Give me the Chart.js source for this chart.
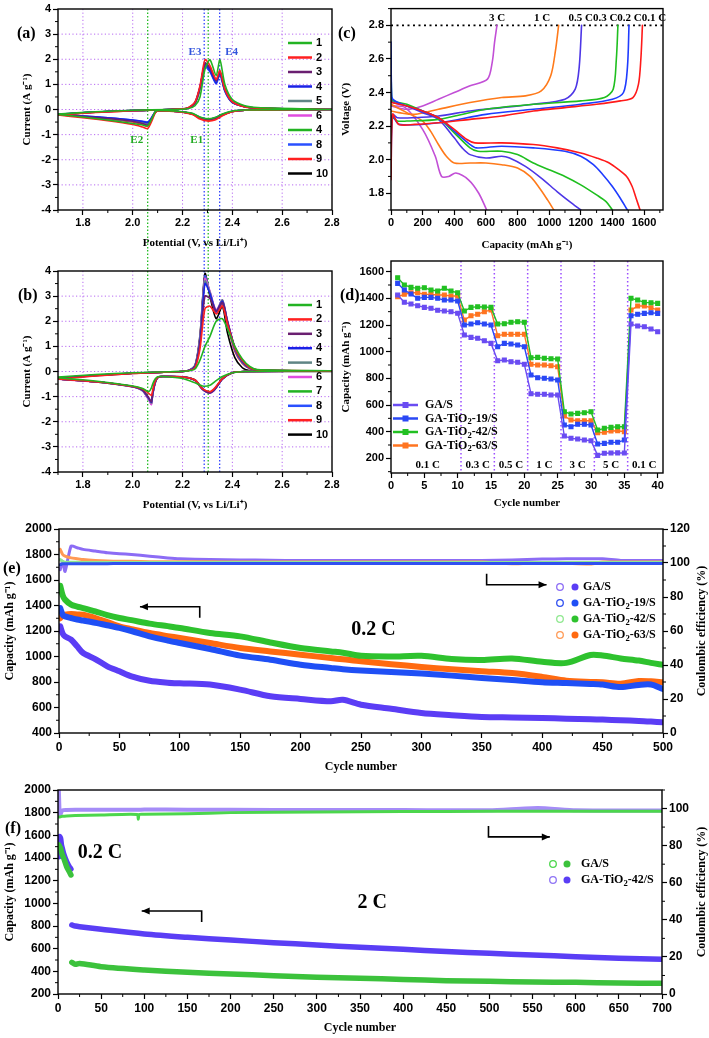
<!DOCTYPE html>
<html>
<head>
<meta charset="utf-8">
<script src="https://cdn.jsdelivr.net/npm/chart.js@4.4.0/dist/chart.umd.min.js"></script>
<style>
  body { margin: 0; background: #fff; }
  #fig { position: relative; width: 709px; height: 1038px; overflow: hidden; background: #fff; }
  #fig canvas { position: absolute; }
  .tag { position: absolute; font: bold 16px "Liberation Serif", serif; line-height: 20px; color: #000; }
</style>
</head>
<body>
<div id="fig">
  <canvas id="cA"></canvas><canvas id="cB"></canvas>
  <canvas id="cC"></canvas><canvas id="cD"></canvas>
  <canvas id="cE"></canvas><canvas id="cF"></canvas>
  <div class="tag" style="left:17px;top:23px">(a)</div>
  <div class="tag" style="left:338px;top:23px">(c)</div>
  <div class="tag" style="left:18px;top:285px">(b)</div>
  <div class="tag" style="left:340px;top:285px">(d)</div>
  <div class="tag" style="left:3px;top:558px">(e)</div>
  <div class="tag" style="left:5px;top:818px">(f)</div>
</div>
<script>
// ---------- (a), (b): CV curves, 10 cycles ----------
var cycleNamesA = ['1', '2', '3', '4', '5', '6', '4', '8', '9', '10'];   // printed like this in (a)
var cycleNamesB = ['1', '2', '3', '4', '5', '6', '7', '8', '9', '10'];
var cvTicksX = [1.8, 2.0, 2.2, 2.4, 2.6, 2.8];
var cvTicksY = [-4, -3, -2, -1, 0, 1, 2, 3, 4];

var aAnodicV = [1.70, 1.85, 2.00, 2.15, 2.22, 2.25, 2.27, 2.29, 2.31, 2.335, 2.35, 2.37, 2.40, 2.45, 2.50, 2.80];
var aAnodicI = [
  [-0.18, -0.09, -0.03, 0.00, 0.03, 0.15, 0.50, 1.60, 1.98, 1.35, 1.98, 1.00, 0.40, 0.15, 0.08, 0.00],
  [-0.22, -0.12, -0.05, 0.00, 0.06, 0.30, 0.95, 1.98, 1.75, 1.20, 1.55, 0.80, 0.30, 0.10, 0.05, 0.00],
  [-0.20, -0.11, -0.04, 0.00, 0.05, 0.25, 0.85, 1.85, 1.65, 1.15, 1.50, 0.80, 0.30, 0.12, 0.06, 0.00],
  [-0.19, -0.10, -0.04, 0.00, 0.05, 0.28, 0.90, 1.80, 1.55, 1.05, 1.45, 0.75, 0.28, 0.11, 0.05, 0.00],
  [-0.20, -0.10, -0.04, 0.00, 0.05, 0.26, 0.85, 1.75, 1.60, 1.10, 1.48, 0.78, 0.29, 0.12, 0.06, 0.00],
  [-0.21, -0.11, -0.04, 0.00, 0.05, 0.25, 0.82, 1.78, 1.62, 1.12, 1.50, 0.80, 0.30, 0.12, 0.06, 0.00],
  [-0.20, -0.10, -0.04, 0.00, 0.05, 0.24, 0.80, 1.75, 1.62, 1.14, 1.52, 0.82, 0.31, 0.12, 0.06, 0.00],
  [-0.19, -0.10, -0.04, 0.00, 0.05, 0.27, 0.88, 1.70, 1.50, 1.02, 1.40, 0.72, 0.27, 0.11, 0.05, 0.00],
  [-0.21, -0.11, -0.05, 0.00, 0.05, 0.27, 0.88, 1.82, 1.60, 1.10, 1.48, 0.78, 0.29, 0.11, 0.05, 0.00],
  [-0.20, -0.10, -0.04, 0.00, 0.05, 0.26, 0.86, 1.72, 1.55, 1.08, 1.45, 0.76, 0.28, 0.11, 0.05, 0.00]
];
var aCathodicV = [2.80, 2.45, 2.40, 2.36, 2.33, 2.30, 2.27, 2.24, 2.18, 2.10, 2.09, 2.08, 2.07, 2.06, 2.04, 2.00, 1.90, 1.80, 1.70];
var aCathodicI = [
  [0.00, -0.02, -0.06, -0.18, -0.32, -0.37, -0.30, -0.15, -0.07, -0.04, -0.10, -0.30, -0.50, -0.65, -0.62, -0.56, -0.42, -0.30, -0.20],
  [0.00, -0.03, -0.09, -0.25, -0.42, -0.46, -0.38, -0.20, -0.09, -0.06, -0.14, -0.38, -0.60, -0.76, -0.70, -0.60, -0.45, -0.33, -0.22],
  [0.00, -0.03, -0.08, -0.22, -0.36, -0.40, -0.33, -0.18, -0.08, -0.05, -0.12, -0.30, -0.48, -0.62, -0.56, -0.47, -0.36, -0.28, -0.20],
  [0.00, -0.03, -0.07, -0.20, -0.34, -0.38, -0.32, -0.17, -0.08, -0.05, -0.10, -0.26, -0.42, -0.52, -0.48, -0.42, -0.33, -0.26, -0.19],
  [0.00, -0.03, -0.08, -0.21, -0.35, -0.39, -0.33, -0.18, -0.08, -0.05, -0.11, -0.28, -0.45, -0.57, -0.52, -0.44, -0.35, -0.27, -0.20],
  [0.00, -0.03, -0.08, -0.22, -0.36, -0.40, -0.34, -0.18, -0.08, -0.05, -0.12, -0.29, -0.46, -0.60, -0.55, -0.46, -0.36, -0.28, -0.20],
  [0.00, -0.03, -0.08, -0.22, -0.37, -0.41, -0.34, -0.18, -0.08, -0.05, -0.12, -0.30, -0.47, -0.60, -0.55, -0.47, -0.37, -0.28, -0.20],
  [0.00, -0.03, -0.07, -0.20, -0.34, -0.38, -0.32, -0.17, -0.08, -0.05, -0.10, -0.25, -0.40, -0.50, -0.47, -0.42, -0.33, -0.26, -0.19],
  [0.00, -0.03, -0.08, -0.23, -0.38, -0.42, -0.35, -0.19, -0.08, -0.05, -0.12, -0.32, -0.52, -0.66, -0.60, -0.50, -0.38, -0.29, -0.21],
  [0.00, -0.03, -0.08, -0.21, -0.35, -0.39, -0.33, -0.18, -0.08, -0.05, -0.11, -0.28, -0.44, -0.56, -0.52, -0.45, -0.35, -0.27, -0.20]
];

var bAnodicV = [1.70, 1.85, 2.00, 2.15, 2.22, 2.25, 2.27, 2.29, 2.31, 2.335, 2.36, 2.38, 2.41, 2.44, 2.47, 2.50, 2.80];
var bAnodicI = [
  [-0.22, -0.12, -0.05, -0.01, 0.02, 0.10, 0.45, 1.00, 1.40, 2.00, 2.10, 1.70, 1.00, 0.50, 0.20, 0.08, 0.03],
  [-0.30, -0.18, -0.08, -0.02, 0.02, 0.15, 0.90, 2.50, 2.60, 2.30, 2.60, 1.90, 0.95, 0.45, 0.15, 0.07, 0.02],
  [-0.28, -0.17, -0.08, -0.02, 0.03, 0.18, 1.10, 3.00, 2.90, 2.40, 2.75, 2.00, 0.95, 0.42, 0.15, 0.06, 0.02],
  [-0.27, -0.16, -0.07, -0.02, 0.03, 0.20, 1.20, 3.50, 3.10, 2.40, 2.80, 2.00, 0.95, 0.40, 0.14, 0.06, 0.02],
  [-0.27, -0.16, -0.07, -0.02, 0.03, 0.20, 1.25, 3.60, 3.15, 2.40, 2.85, 2.00, 0.95, 0.40, 0.14, 0.06, 0.02],
  [-0.27, -0.16, -0.07, -0.02, 0.03, 0.21, 1.30, 3.70, 3.20, 2.45, 2.85, 2.05, 0.95, 0.40, 0.14, 0.06, 0.02],
  [-0.26, -0.15, -0.07, -0.02, 0.03, 0.21, 1.30, 3.70, 3.15, 2.40, 2.80, 2.00, 0.92, 0.38, 0.13, 0.05, 0.02],
  [-0.26, -0.15, -0.07, -0.02, 0.03, 0.22, 1.35, 3.80, 3.15, 2.35, 2.75, 1.90, 0.85, 0.35, 0.12, 0.05, 0.02],
  [-0.26, -0.15, -0.07, -0.02, 0.03, 0.22, 1.35, 3.80, 3.10, 2.30, 2.70, 1.85, 0.80, 0.32, 0.11, 0.05, 0.02],
  [-0.25, -0.15, -0.07, -0.02, 0.03, 0.25, 1.45, 3.90, 3.00, 2.10, 2.60, 1.55, 0.55, 0.15, 0.03, 0.01, 0.00]
];
var bCathodicV = [2.80, 2.45, 2.40, 2.36, 2.33, 2.31, 2.28, 2.25, 2.20, 2.12, 2.10, 2.09, 2.08, 2.075, 2.065, 2.04, 2.00, 1.90, 1.80, 1.70];
var bCathodicI = [
  [0.03, 0.00, -0.05, -0.20, -0.40, -0.55, -0.58, -0.45, -0.28, -0.20, -0.21, -0.30, -0.50, -0.65, -0.80, -0.68, -0.58, -0.44, -0.33, -0.25],
  [0.02, 0.00, -0.05, -0.28, -0.65, -0.80, -0.68, -0.34, -0.22, -0.20, -0.23, -0.40, -0.75, -0.95, -0.88, -0.70, -0.60, -0.46, -0.37, -0.30],
  [0.02, 0.00, -0.05, -0.30, -0.70, -0.85, -0.70, -0.35, -0.22, -0.20, -0.24, -0.42, -0.85, -1.20, -1.05, -0.74, -0.60, -0.46, -0.37, -0.30],
  [0.02, 0.00, -0.05, -0.30, -0.70, -0.84, -0.70, -0.35, -0.22, -0.20, -0.24, -0.44, -0.88, -1.22, -1.08, -0.75, -0.61, -0.46, -0.37, -0.30],
  [0.02, 0.00, -0.05, -0.30, -0.71, -0.85, -0.71, -0.35, -0.22, -0.20, -0.24, -0.44, -0.90, -1.25, -1.10, -0.76, -0.61, -0.47, -0.37, -0.30],
  [0.02, 0.00, -0.05, -0.31, -0.72, -0.86, -0.72, -0.36, -0.22, -0.20, -0.25, -0.46, -0.95, -1.32, -1.15, -0.78, -0.62, -0.47, -0.38, -0.31],
  [0.02, 0.00, -0.05, -0.30, -0.70, -0.85, -0.70, -0.35, -0.22, -0.20, -0.24, -0.45, -0.92, -1.28, -1.12, -0.77, -0.61, -0.47, -0.37, -0.30],
  [0.02, 0.00, -0.05, -0.30, -0.70, -0.84, -0.70, -0.35, -0.22, -0.20, -0.24, -0.45, -0.92, -1.27, -1.12, -0.76, -0.61, -0.46, -0.37, -0.30],
  [0.02, 0.00, -0.05, -0.29, -0.69, -0.83, -0.69, -0.34, -0.22, -0.20, -0.24, -0.44, -0.90, -1.25, -1.10, -0.75, -0.60, -0.46, -0.37, -0.30],
  [0.02, 0.00, -0.05, -0.28, -0.68, -0.82, -0.68, -0.33, -0.21, -0.19, -0.23, -0.44, -0.90, -1.25, -1.12, -0.76, -0.60, -0.46, -0.37, -0.30]
];

// ---------- (c): charge / discharge profiles ----------
var capTicksC = [0, 200, 400, 600, 800, 1000, 1200, 1400, 1600];
var voltTicksC = [1.8, 2.0, 2.2, 2.4, 2.6, 2.8];
var dis01Cap = [0, 5, 100, 200, 300, 400, 480, 530, 700, 900, 1050, 1200, 1300, 1380, 1440, 1490, 1525, 1550, 1575];
var dis01V = [2.35, 2.34, 2.32, 2.29, 2.25, 2.18, 2.12, 2.10, 2.10, 2.09, 2.07, 2.04, 2.01, 1.98, 1.94, 1.90, 1.84, 1.77, 1.70];
var dis02Cap = [0, 5, 100, 200, 300, 400, 500, 540, 700, 900, 1100, 1200, 1280, 1340, 1400, 1450, 1495];
var dis02V = [2.70, 2.37, 2.32, 2.29, 2.25, 2.17, 2.09, 2.07, 2.08, 2.07, 2.05, 2.02, 1.97, 1.91, 1.84, 1.77, 1.70];
var dis03Cap = [0, 5, 100, 200, 300, 400, 500, 550, 700, 800, 900, 1000, 1100, 1200, 1300, 1360, 1400];
var dis03V = [2.62, 2.36, 2.33, 2.29, 2.25, 2.16, 2.07, 2.05, 2.05, 2.03, 1.98, 1.94, 1.90, 1.85, 1.79, 1.75, 1.70];
var dis05Cap = [0, 5, 100, 200, 300, 400, 450, 500, 600, 700, 750, 850, 950, 1050, 1130, 1200];
var dis05V = [2.45, 2.35, 2.32, 2.28, 2.24, 2.13, 2.07, 2.03, 2.01, 2.02, 2.01, 1.96, 1.89, 1.81, 1.75, 1.70];
var dis1Cap = [0, 100, 200, 250, 300, 350, 400, 500, 600, 700, 800, 880, 940, 990, 1030];
var dis1V = [2.33, 2.28, 2.23, 2.17, 2.09, 2.02, 1.98, 1.98, 1.98, 1.97, 1.95, 1.90, 1.83, 1.76, 1.70];
var dis3Cap = [0, 90, 200, 280, 320, 365, 410, 490, 555, 605];
var dis3V = [2.32, 2.31, 2.18, 2.02, 1.90, 1.90, 1.92, 1.88, 1.80, 1.70];
var chg01Cap = [0, 10, 50, 150, 300, 500, 700, 900, 1100, 1300, 1450, 1530, 1565, 1580, 1590];
var chg01V = [1.88, 2.27, 2.21, 2.21, 2.22, 2.24, 2.26, 2.29, 2.31, 2.33, 2.35, 2.37, 2.45, 2.60, 2.80];
var chg02Cap = [0, 10, 50, 300, 600, 900, 1200, 1400, 1470, 1495, 1505];
var chg02V = [1.92, 2.26, 2.21, 2.22, 2.27, 2.30, 2.33, 2.36, 2.40, 2.55, 2.80];
var chg03Cap = [0, 10, 40, 100, 300, 600, 900, 1200, 1350, 1405, 1425, 1435];
var chg03V = [2.10, 2.25, 2.23, 2.23, 2.24, 2.30, 2.33, 2.35, 2.37, 2.42, 2.60, 2.80];
var chg05Cap = [0, 10, 40, 150, 300, 500, 700, 900, 1100, 1165, 1190, 1205];
var chg05V = [2.20, 2.27, 2.25, 2.25, 2.26, 2.29, 2.31, 2.33, 2.36, 2.42, 2.55, 2.80];
var chg1Cap = [0, 50, 150, 300, 500, 700, 850, 950, 1010, 1040, 1060];
var chg1V = [2.29, 2.28, 2.27, 2.30, 2.34, 2.37, 2.38, 2.41, 2.50, 2.65, 2.80];
var chg3Cap = [0, 100, 200, 300, 400, 500, 610, 640, 655, 670];
var chg3V = [2.32, 2.30, 2.32, 2.36, 2.40, 2.44, 2.48, 2.58, 2.70, 2.80];

// ---------- (d): rate capability ----------
var rateCycles = [1, 2, 3, 4, 5, 6, 7, 8, 9, 10, 11, 12, 13, 14, 15, 16, 17, 18, 19, 20,
                  21, 22, 23, 24, 25, 26, 27, 28, 29, 30, 31, 32, 33, 34, 35, 36, 37, 38, 39, 40];
var rateGA = [1425, 1370, 1357, 1345, 1332, 1325, 1310, 1305, 1300, 1288, 1125, 1107, 1100, 1082, 1062,
              932, 937, 925, 920, 905, 685, 680, 680, 675, 675, 367, 350, 345, 337, 332,
              222, 238, 240, 241, 240, 1207, 1192, 1187, 1170, 1150];
var rateT19 = [1512, 1462, 1432, 1400, 1407, 1407, 1400, 1387, 1387, 1380, 1200, 1207, 1217, 1207, 1200,
               1037, 1062, 1057, 1050, 1037, 825, 805, 800, 795, 787, 450, 437, 455, 455, 450,
               307, 312, 320, 320, 337, 1270, 1280, 1287, 1292, 1287];
var rateT42 = [1555, 1500, 1482, 1475, 1480, 1462, 1455, 1475, 1455, 1442, 1305, 1332, 1337, 1335, 1332,
               1207, 1210, 1220, 1225, 1220, 955, 957, 950, 947, 945, 550, 532, 537, 542, 550,
               412, 425, 432, 437, 437, 1400, 1387, 1370, 1367, 1362];
var rateT63 = [1412, 1430, 1442, 1442, 1430, 1430, 1425, 1425, 1417, 1417, 1237, 1270, 1280, 1300, 1312,
               1120, 1130, 1130, 1130, 1130, 905, 900, 900, 895, 887, 517, 487, 482, 482, 482,
               392, 395, 405, 407, 400, 1312, 1342, 1342, 1330, 1312];
var rateSteps = ['0.1 C', '0.3 C', '0.5 C', '1 C', '3 C', '5 C', '0.1 C'];
var rateStepMid = [5.5, 13, 18, 23, 28, 33, 38];
var rateBreaks = [10.5, 15.5, 20.5, 25.5, 30.5, 35.5];
var rateTicksX = [0, 5, 10, 15, 20, 25, 30, 35, 40];
var rateTicksY = [200, 400, 600, 800, 1000, 1200, 1400, 1600];

// ---------- (e): long cycling at 0.2 C ----------
var cyclesE = [1, 3, 5, 10, 15, 20, 30, 40, 50, 60, 75, 90, 100, 125, 150, 175, 200, 225, 235, 250,
               275, 300, 325, 350, 375, 400, 420, 440, 450, 465, 480, 490, 500];
var capE_GA = [1237, 1180, 1158, 1132, 1080, 1027, 980, 923, 884, 845, 810, 795, 790, 780, 740, 688, 667, 649, 660, 622,
               590, 557, 540, 526, 522, 518, 512, 508, 505, 500, 495, 490, 484];
var capE_T19 = [1380, 1328, 1315, 1302, 1290, 1282, 1265, 1245, 1224, 1200, 1158, 1125, 1106, 1059, 1007, 975, 936, 910, 900, 890,
                878, 866, 850, 832, 815, 798, 792, 785, 780, 760, 777, 780, 745];
var capE_T42 = [1555, 1480, 1446, 1407, 1392, 1380, 1354, 1325, 1302, 1285, 1258, 1238, 1224, 1184, 1158, 1110, 1067, 1040, 1030, 1005,
                1000, 1005, 980, 972, 985, 958, 950, 1012, 1008, 985, 968, 950, 935];
var capE_T63 = [1300, 1320, 1328, 1333, 1330, 1328, 1302, 1270, 1237, 1215, 1184, 1160, 1145, 1106, 1067, 1040, 1014, 988, 978, 962,
                940, 918, 900, 884, 870, 840, 810, 800, 798, 787, 808, 805, 798];
var ceE_GA = [96, 101, 95, 110, 109, 108, 107, 106, 105.5, 105, 104, 103, 102.5, 102, 101.8, 101.6, 101.5, 101.5, 101.5, 101.5,
              101.5, 101.5, 101.5, 101.5, 101.8, 102.3, 102.5, 102.5, 102.5, 101.5, 101.5, 101.5, 101.5];
var ceE_T19 = [99, 99.5, 99.5, 99.6, 99.6, 99.6, 99.6, 99.6, 99.7, 99.7, 99.7, 99.7, 99.7, 99.7, 99.7, 99.7, 99.7, 99.7, 99.7, 99.7,
               99.7, 99.7, 99.7, 99.7, 99.7, 99.7, 99.7, 99.7, 99.7, 99.7, 99.7, 99.7, 99.7];
var ceE_T42 = [102, 101, 100.5, 100.4, 100.4, 100.3, 100.3, 100.3, 100.3, 100.3, 100.3, 100.3, 100.3, 100.3, 100.3, 100.3, 100.3, 100.3, 100.3, 100.3,
               100.3, 100.3, 100.3, 100.3, 100.3, 100.3, 100.3, 100.3, 100.3, 100.3, 100.3, 100.3, 100.3];
var ceE_T63 = [108, 105, 104, 103, 102.5, 102, 101.5, 101.2, 101, 101, 100.8, 100.8, 100.7, 100.7, 100.6, 100.6, 100.6, 100.6, 100.6, 100.6,
               100.6, 100.6, 100.6, 100.6, 99.6, 100.2, 99.8, 99.4, 100.6, 100.6, 100.6, 100.6, 100.6];
var cycTicksE = [0, 50, 100, 150, 200, 250, 300, 350, 400, 450, 500];
var capTicksE = [400, 600, 800, 1000, 1200, 1400, 1600, 1800, 2000];
var ceTicksE = [0, 20, 40, 60, 80, 100, 120];

// ---------- (f): 0.2 C activation then 2 C ----------
var cyclesF02 = [1, 2, 3, 4, 5, 7, 10, 13, 15];
var capF02_GA = [1515, 1500, 1485, 1455, 1427, 1390, 1324, 1280, 1250];
var capF02_T42 = [1412, 1588, 1574, 1515, 1485, 1427, 1368, 1324, 1303];
var cyclesF2 = [16, 20, 25, 50, 100, 150, 200, 250, 300, 350, 400, 450, 500, 550, 600, 650, 700];
var capF2_GA = [479, 462, 470, 441, 412, 391, 377, 362, 347, 340, 329, 318, 312, 306, 303, 297, 294];
var capF2_T42 = [809, 800, 794, 771, 729, 700, 676, 653, 632, 612, 594, 574, 559, 544, 529, 515, 506];
var cyclesCEF = [1, 2, 3, 5, 10, 20, 50, 92, 93, 94, 100, 150, 200, 300, 400, 500, 556, 600, 700];
var ceF_GA = [95.5, 95.5, 95.6, 95.8, 96, 96.2, 96.5, 96.8, 94.2, 96.8, 96.9, 97.2, 97.8, 98.2, 98.4, 98.5, 98.5, 98.5, 98.5];
var ceF_T42 = [110, 96.5, 97, 99, 99.2, 99.3, 99.4, 99.3, 99.3, 99.3, 99.5, 99.4, 99.3, 99.2, 99.2, 99.1, 100.3, 99.1, 99];
var cycTicksF = [0, 50, 100, 150, 200, 250, 300, 350, 400, 450, 500, 550, 600, 650, 700];
var capTicksF = [200, 400, 600, 800, 1000, 1200, 1400, 1600, 1800, 2000];
var ceTicksF = [0, 20, 40, 60, 80, 100];

// ---------- helpers ----------
var SANS = '"Liberation Sans", Arial, sans-serif';
var SERIF = '"Liberation Serif", "Times New Roman", serif';
var cycleColors = ['#22b322', '#ff2020', '#6a1f70', '#1a22e6', '#5f8585', '#e04ce0', '#22b322', '#2a50ff', '#ff2020', '#000000'];

function pts(xs, ys) { return xs.map(function (x, i) { return {x: x, y: ys[i]}; }); }
function seg(ctx, x1, y1, x2, y2) { ctx.beginPath(); ctx.moveTo(x1, y1); ctx.lineTo(x2, y2); ctx.stroke(); }

// "_2" in a string is drawn as a subscript 2
function richText(ctx, str, x, y, size, family, align) {
  var parts = str.split(/(_\d)/).filter(Boolean);
  var f = function (s) { return 'bold ' + s + 'px ' + family; };
  var w = 0;
  parts.forEach(function (p) {
    var sub = p[0] === '_';
    ctx.font = f(sub ? size * 0.72 : size);
    w += ctx.measureText(sub ? p.slice(1) : p).width;
  });
  var cx = align === 'center' ? x - w / 2 : (align === 'right' ? x - w : x);
  ctx.textAlign = 'left';
  ctx.textBaseline = 'middle';
  parts.forEach(function (p) {
    var sub = p[0] === '_';
    var t = sub ? p.slice(1) : p;
    ctx.font = f(sub ? size * 0.72 : size);
    ctx.fillText(t, cx, sub ? y + size * 0.28 : y);
    cx += ctx.measureText(t).width;
  });
}

var deco = {
  id: 'deco',
  beforeDatasetsDraw: function (chart, args, o) {
    var ctx = chart.ctx, a = chart.chartArea, sx = chart.scales.x, sy = chart.scales.y;
    ctx.save();
    if (o.grid) {
      ctx.strokeStyle = o.grid; ctx.lineWidth = 1; ctx.setLineDash([1.2, 2.4]);
      sx.ticks.forEach(function (t) {
        var p = sx.getPixelForValue(t.value);
        if (p > a.left + 2 && p < a.right - 2) seg(ctx, p, a.top, p, a.bottom);
      });
      sy.ticks.forEach(function (t) {
        var p = sy.getPixelForValue(t.value);
        if (p > a.top + 2 && p < a.bottom - 2) seg(ctx, a.left, p, a.right, p);
      });
    }
    (o.vlines || []).forEach(function (v) {
      ctx.strokeStyle = v.color; ctx.lineWidth = v.width || 1.3; ctx.setLineDash(v.dash || [1.5, 2]);
      var p = sx.getPixelForValue(v.x);
      seg(ctx, p, v.up ? 0 : a.top, p, v.down ? chart.height : a.bottom);
    });
    (o.hlines || []).forEach(function (h) {
      ctx.strokeStyle = h.color; ctx.lineWidth = h.width || 1.3; ctx.setLineDash(h.dash || [2, 3]);
      var p = sy.getPixelForValue(h.y);
      seg(ctx, a.left, p, a.right, p);
    });
    ctx.restore();
  },
  afterDraw: function (chart, args, o) {
    var ctx = chart.ctx, a = chart.chartArea;
    ctx.save();
    // frame
    ctx.strokeStyle = '#000'; ctx.lineWidth = 1.4; ctx.setLineDash([]);
    ctx.strokeRect(a.left, a.top, a.width, a.height);
    // minor ticks halfway between the major ones
    ctx.lineWidth = 1;
    ['x', 'y', 'y2'].forEach(function (id) {
      var s = chart.scales[id];
      if (!s || s.ticks.length < 2) return;
      var step = s.ticks[1].value - s.ticks[0].value;
      for (var v = s.ticks[0].value - step / 2; v <= s.max + 1e-9; v += step) {
        if (v < s.min - 1e-9) continue;
        var p = s.getPixelForValue(v);
        if (id === 'x') seg(ctx, p, a.bottom, p, a.bottom + 3);
        else if (id === 'y') seg(ctx, a.left - 3, p, a.left, p);
        else seg(ctx, a.right, p, a.right + 3, p);
      }
    });
    // text notes
    (o.texts || []).forEach(function (t) {
      var px = chart.scales.x.getPixelForValue(t.x);
      var py = chart.scales[t.axis || 'y'].getPixelForValue(t.y);
      ctx.fillStyle = t.color || '#000';
      richText(ctx, t.text, px, py, t.size || 11, SERIF, t.align || 'center');
    });
    // arrows
    (o.arrows || []).forEach(function (ar) {
      var sy = chart.scales[ar.axis || 'y'];
      var p = ar.pts.map(function (q) { return [chart.scales.x.getPixelForValue(q[0]), sy.getPixelForValue(q[1])]; });
      ctx.strokeStyle = '#000'; ctx.fillStyle = '#000'; ctx.lineWidth = 1.6;
      ctx.beginPath(); ctx.moveTo(p[0][0], p[0][1]);
      for (var i = 1; i < p.length; i++) ctx.lineTo(p[i][0], p[i][1]);
      ctx.stroke();
      var e = p[p.length - 1], b = p[p.length - 2];
      var ang = Math.atan2(e[1] - b[1], e[0] - b[0]);
      ctx.beginPath();
      ctx.moveTo(e[0], e[1]);
      ctx.lineTo(e[0] - 8 * Math.cos(ang) + 3.5 * Math.sin(ang), e[1] - 8 * Math.sin(ang) - 3.5 * Math.cos(ang));
      ctx.lineTo(e[0] - 8 * Math.cos(ang) - 3.5 * Math.sin(ang), e[1] - 8 * Math.sin(ang) + 3.5 * Math.cos(ang));
      ctx.closePath(); ctx.fill();
    });
    // legend
    if (o.legend) {
      var L = o.legend, row = 0;
      chart.data.datasets.forEach(function (ds) {
        if (ds.noLegend) return;
        var y = a.top + L.top + row * L.step, x0 = a.left + L.left;
        ctx.setLineDash([]);
        if (L.kind === 'line' || L.kind === 'lineSquare') {
          ctx.strokeStyle = ds.borderColor; ctx.lineWidth = L.width || 2.5;
          seg(ctx, x0, y, x0 + L.len, y);
          if (L.kind === 'lineSquare') {
            ctx.fillStyle = ds.borderColor;
            ctx.fillRect(x0 + L.len / 2 - 3, y - 3, 6, 6);
          }
        } else if (L.kind === 'circles') {
          ctx.lineWidth = 1.3; ctx.strokeStyle = ds.openColor;
          ctx.beginPath(); ctx.arc(x0, y, 3.3, 0, Math.PI * 2); ctx.stroke();
          ctx.fillStyle = ds.borderColor;
          ctx.beginPath(); ctx.arc(x0 + L.gap, y, 3.5, 0, Math.PI * 2); ctx.fill();
        }
        ctx.fillStyle = '#000';
        richText(ctx, ds.label, x0 + L.textDx, y, L.size, L.family === 'sans' ? SANS : SERIF, 'left');
        row++;
      });
    }
    // right axis title, read from bottom to top
    if (o.rightTitle && chart.scales.y2) {
      var s2 = chart.scales.y2;
      ctx.translate(s2.right - o.rightTitle.size * 0.6, (a.top + a.bottom) / 2);
      ctx.rotate(-Math.PI / 2);
      ctx.fillStyle = '#000';
      richText(ctx, o.rightTitle.text, 0, 0, o.rightTitle.size, SERIF, 'center');
    }
    ctx.restore();
  }
};

function axis(o) {
  return {
    type: 'linear', position: o.pos || undefined, min: o.min, max: o.max,
    afterBuildTicks: function (s) { s.ticks = o.ticks.map(function (v) { return {value: v}; }); },
    ticks: {
      autoSkip: false, maxRotation: 0, padding: o.pad === undefined ? 2 : o.pad, color: '#000',
      font: {family: SANS, weight: 'bold', size: o.size},
      callback: o.fmt || function (v) { return String(v); }
    },
    grid: {drawOnChartArea: false, tickLength: 5, tickColor: '#000', tickWidth: 1.2},
    border: {display: false},
    title: {display: !!o.title, text: o.title || '', color: '#000', padding: 0,
            font: {family: SERIF, weight: 'bold', size: o.titleSize || 11}}
  };
}

function panel(id, box, area, datasets, scales, decoOpts) {
  var cv = document.getElementById(id);
  cv.width = box.w; cv.height = box.h;
  cv.style.left = box.x + 'px'; cv.style.top = box.y + 'px';
  var rightGap = box.x + box.w - area.r;
  scales.x.afterFit = function (s) { s.height = box.y + box.h - area.b; };
  scales.y.afterFit = function (s) { s.width = area.l - box.x; };
  if (scales.y2) scales.y2.afterFit = function (s) { s.width = rightGap; };
  return new Chart(cv, {
    type: 'scatter',
    data: {datasets: datasets},
    options: {
      responsive: false, animation: false, events: [],
      layout: {padding: {top: area.t - box.y, right: scales.y2 ? 0 : rightGap, left: 0, bottom: 0}},
      plugins: {legend: {display: false}, tooltip: {enabled: false}, deco: decoOpts},
      scales: scales
    },
    plugins: [deco]
  });
}

function cvSets(anV, anI, caV, caI, names) {
  return names.map(function (n, i) {
    return {
      label: n, data: pts(anV, anI[i]).concat(pts(caV, caI[i])),
      showLine: true, borderColor: cycleColors[i], borderWidth: 1.6, pointRadius: 0, tension: 0.25
    };
  });
}

function line(label, xs, ys, color, width, extra) {
  var d = {label: label, data: pts(xs, ys), showLine: true, borderColor: color, backgroundColor: color,
           borderWidth: width, pointRadius: 0, tension: 0.3, borderCapStyle: 'round'};
  for (var k in extra) d[k] = extra[k];
  return d;
}

var fmt1 = function (v) { return v.toFixed(1); };
var eLines = function (ext) {
  return [
    {x: 2.06, color: '#22bb22', up: ext === 'up', down: ext === 'down'},
    {x: 2.287, color: '#3344ff', up: ext === 'up', down: ext === 'down'},
    {x: 2.303, color: '#22bb22', up: ext === 'up', down: ext === 'down'},
    {x: 2.349, color: '#3344ff', up: ext === 'up', down: ext === 'down'}
  ];
};

// (a)
panel('cA', {x: 21, y: 0, w: 334, h: 250}, {l: 58, t: 9, r: 332, b: 210},
  cvSets(aAnodicV, aAnodicI, aCathodicV, aCathodicI, cycleNamesA),
  {
    x: axis({min: 1.7, max: 2.8, ticks: cvTicksX, size: 11, fmt: fmt1, pad: 1, title: 'Potential (V, vs Li/Li\u207A)'}),
    y: axis({min: -4, max: 4, ticks: cvTicksY, size: 11, title: 'Current (A g\u207B\u00B9)'})
  },
  {
    grid: 'rgba(170, 80, 240, 0.85)', vlines: eLines('down'),
    texts: [
      {x: 2.25, y: 2.3, text: 'E3', color: '#3355dd'}, {x: 2.397, y: 2.3, text: 'E4', color: '#3355dd'},
      {x: 2.016, y: -1.22, text: 'E2', color: '#22aa22'}, {x: 2.257, y: -1.22, text: 'E1', color: '#22aa22'}
    ],
    legend: {kind: 'line', left: 230, top: 34, step: 14.5, len: 24, textDx: 28, size: 11, family: 'sans'}
  });

// (b)
panel('cB', {x: 21, y: 250, w: 334, h: 262}, {l: 58, t: 271, r: 332, b: 472},
  cvSets(bAnodicV, bAnodicI, bCathodicV, bCathodicI, cycleNamesB),
  {
    x: axis({min: 1.7, max: 2.8, ticks: cvTicksX, size: 11, fmt: fmt1, pad: 1, title: 'Potential (V, vs Li/Li\u207A)'}),
    y: axis({min: -4, max: 4, ticks: cvTicksY, size: 11, title: 'Current (A g\u207B\u00B9)'})
  },
  {
    grid: 'rgba(170, 80, 240, 0.85)', vlines: eLines('up'),
    legend: {kind: 'line', left: 230, top: 34, step: 14.4, len: 24, textDx: 28, size: 11, family: 'sans'}
  });

// (c)
var rateColors = {r01: '#ff1a1a', r02: '#1f3cff', r03: '#1fbf1f', r05: '#4d36e6', r1: '#ff7a1a', r3: '#c24fd6'};
panel('cC', {x: 340, y: 0, w: 369, h: 252}, {l: 391, t: 8, r: 663, b: 210},
  [
    line('0.1 C', dis01Cap, dis01V, rateColors.r01, 1.6), line('0.1 C', chg01Cap, chg01V, rateColors.r01, 1.6),
    line('0.2 C', dis02Cap, dis02V, rateColors.r02, 1.6), line('0.2 C', chg02Cap, chg02V, rateColors.r02, 1.6),
    line('0.3 C', dis03Cap, dis03V, rateColors.r03, 1.6), line('0.3 C', chg03Cap, chg03V, rateColors.r03, 1.6),
    line('0.5 C', dis05Cap, dis05V, rateColors.r05, 1.6), line('0.5 C', chg05Cap, chg05V, rateColors.r05, 1.6),
    line('1 C', dis1Cap, dis1V, rateColors.r1, 1.6), line('1 C', chg1Cap, chg1V, rateColors.r1, 1.6),
    line('3 C', dis3Cap, dis3V, rateColors.r3, 1.6), line('3 C', chg3Cap, chg3V, rateColors.r3, 1.6)
  ],
  {
    x: axis({min: 0, max: 1720, ticks: capTicksC, size: 11, pad: 1, title: 'Capacity (mAh g\u207B\u00B9)'}),
    y: axis({min: 1.7, max: 2.9, ticks: voltTicksC, size: 11, fmt: fmt1, title: 'Voltage (V)'})
  },
  {
    hlines: [{y: 2.8, color: '#000', dash: [2, 3.5], width: 1.6}],
    texts: [
      {x: 671, y: 2.845, text: '3 C'}, {x: 956, y: 2.845, text: '1 C'},
      {x: 1122, y: 2.845, text: '0.5 C0.3 C0.2 C0.1 C', align: 'left'}
    ]
  });

// (d)
var sq = function (c) { return {pointRadius: 2.6, pointStyle: 'rect', pointBackgroundColor: c, pointBorderColor: c, tension: 0}; };
panel('cD', {x: 340, y: 252, w: 369, h: 258}, {l: 391, t: 261, r: 663, b: 473},
  [
    line('GA/S', rateCycles, rateGA, '#6a4cf2', 1.4, sq('#6a4cf2')),
    line('GA-TiO_2-19/S', rateCycles, rateT19, '#2a48f5', 1.4, sq('#2a48f5')),
    line('GA-TiO_2-42/S', rateCycles, rateT42, '#22c022', 1.4, sq('#22c022')),
    line('GA-TiO_2-63/S', rateCycles, rateT63, '#ff7420', 1.4, sq('#ff7420'))
  ],
  {
    x: axis({min: 0, max: 40.8, ticks: rateTicksX, size: 11, pad: 1, title: 'Cycle number'}),
    y: axis({min: 90, max: 1680, ticks: rateTicksY, size: 11, title: 'Capacity (mAh g\u207B\u00B9)'})
  },
  {
    vlines: rateBreaks.map(function (v) { return {x: v, color: '#9b4dff', dash: [1.5, 2.5], width: 1.5}; }),
    texts: rateSteps.map(function (s, i) { return {x: rateStepMid[i], y: 150, text: s}; }),
    legend: {kind: 'lineSquare', left: 2, top: 144, step: 13.5, len: 25, textDx: 32, size: 12}
  });

// (e)
panel('cE', {x: 3, y: 512, w: 706, h: 262}, {l: 59, t: 529, r: 663, b: 733},
  [
    line('GA/S', cyclesE, capE_GA, '#5b3df5', 6, {openColor: '#8c6cf5'}),
    line('GA-TiO_2-19/S', cyclesE, capE_T19, '#1f4ff5', 6, {openColor: '#3050f0'}),
    line('GA-TiO_2-42/S', cyclesE, capE_T42, '#2ec22e', 6, {openColor: '#8fe88f'}),
    line('GA-TiO_2-63/S', cyclesE, capE_T63, '#ff6a10', 6, {openColor: '#ff9a55'}),
    line('', cyclesE, ceE_T19, '#3050f0', 3, {yAxisID: 'y2', noLegend: true, tension: 0.2}),
    line('', cyclesE, ceE_T42, '#8fe88f', 3, {yAxisID: 'y2', noLegend: true, tension: 0.2}),
    line('', cyclesE, ceE_T63, '#ff9a55', 3, {yAxisID: 'y2', noLegend: true, tension: 0.2}),
    line('', cyclesE, ceE_GA, '#8c6cf5', 3, {yAxisID: 'y2', noLegend: true, tension: 0.2})
  ],
  {
    x: axis({min: 0, max: 500, ticks: cycTicksE, size: 12, title: 'Cycle number', titleSize: 12}),
    y: axis({min: 400, max: 2000, ticks: capTicksE, size: 12, title: 'Capacity (mAh g\u207B\u00B9)', titleSize: 12}),
    y2: axis({min: 0, max: 120, ticks: ceTicksE, size: 12, pos: 'right'})
  },
  {
    texts: [{x: 242, y: 1210, text: '0.2 C', size: 20, align: 'left'}],
    arrows: [
      {pts: [[116.5, 1304], [116.5, 1390], [67, 1390]]},
      {pts: [[354, 93.7], [354, 87.2], [403.6, 87.2]], axis: 'y2'}
    ],
    legend: {kind: 'circles', left: 501, gap: 15, top: 58, step: 16, textDx: 23, size: 12},
    rightTitle: {text: 'Coulombic efficiency (%)', size: 12}
  });

// (f)
function joined(x1, y1, x2, y2) {
  return pts(x1, y1).concat([{x: (x1[x1.length - 1] + x2[0]) / 2, y: null}], pts(x2, y2));
}
var dsGA = line('GA/S', [], [], '#3cc23c', 5.5, {openColor: '#4cd64c'});
dsGA.data = joined(cyclesF02, capF02_GA, cyclesF2, capF2_GA);
var dsT42 = line('GA-TiO_2-42/S', [], [], '#5a3ef5', 5.5, {openColor: '#8f74f5'});
dsT42.data = joined(cyclesF02, capF02_T42, cyclesF2, capF2_T42);
panel('cF', {x: 3, y: 775, w: 706, h: 260}, {l: 58, t: 790, r: 662, b: 994},
  [
    dsGA, dsT42,
    line('', cyclesCEF, ceF_GA, '#4cd64c', 3, {yAxisID: 'y2', noLegend: true, tension: 0.2}),
    line('', cyclesCEF, ceF_T42, '#a58cf7', 4, {yAxisID: 'y2', noLegend: true, tension: 0.2})
  ],
  {
    x: axis({min: 0, max: 700, ticks: cycTicksF, size: 12, title: 'Cycle number', titleSize: 12}),
    y: axis({min: 200, max: 2000, ticks: capTicksF, size: 12, title: 'Capacity (mAh g\u207B\u00B9)', titleSize: 12}),
    y2: axis({min: 0, max: 110, ticks: ceTicksF, size: 12, pos: 'right'})
  },
  {
    texts: [
      {x: 22.8, y: 1444, text: '0.2 C', size: 20, align: 'left'},
      {x: 347, y: 1003, text: '2 C', size: 20, align: 'left'}
    ],
    arrows: [
      {pts: [[166.5, 835], [166.5, 932], [97, 932]]},
      {pts: [[498.9, 90.6], [498.9, 84.7], [570, 84.7]], axis: 'y2'}
    ],
    legend: {kind: 'circles', left: 495, gap: 14, top: 74, step: 16, textDx: 28, size: 12},
    rightTitle: {text: 'Coulombic efficiency (%)', size: 12}
  });
</script>
</body>
</html>
